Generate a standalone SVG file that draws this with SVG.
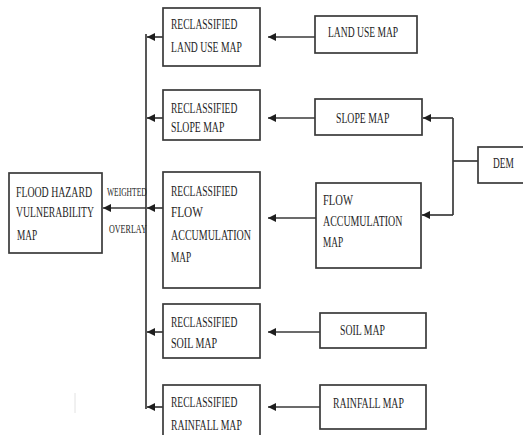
<svg xmlns="http://www.w3.org/2000/svg" width="523" height="435" viewBox="0 0 523 435">
<style>
.box{fill:#fff;stroke:#3a3a3a;stroke-width:1.7}
.ln{fill:none;stroke:#3a3a3a;stroke-width:1.7}
.arr{fill:none;stroke:#3a3a3a;stroke-width:1.7;marker-end:url(#ah)}
text{font-family:"Liberation Serif","Times New Roman",serif;font-size:15px;fill:#1e1e1e}
.sm{font-size:12px}
</style>
<defs>
<marker id="ah" markerUnits="userSpaceOnUse" markerWidth="9" markerHeight="8" refX="8" refY="4" orient="auto">
<path d="M0,0 L8,4 L0,8 Z" fill="#1e1e1e"/>
</marker>
</defs>
<rect width="523" height="435" fill="#fff"/>
<g id="connectors">
<line class="ln" x1="146" y1="34" x2="146" y2="409"/>
<line class="arr" x1="163" y1="37" x2="147" y2="37"/>
<line class="arr" x1="163" y1="118" x2="147" y2="118"/>
<line class="arr" x1="163" y1="208" x2="147" y2="208"/>
<line class="arr" x1="163" y1="332" x2="147" y2="332"/>
<line class="arr" x1="163" y1="407" x2="147" y2="407"/>
<line class="arr" x1="146" y1="208" x2="103" y2="208"/>
<line class="arr" x1="315" y1="37" x2="268" y2="37"/>
<line class="arr" x1="315" y1="118" x2="268" y2="118"/>
<line class="arr" x1="316" y1="218" x2="268" y2="218"/>
<line class="arr" x1="320" y1="332" x2="268" y2="332"/>
<line class="arr" x1="320" y1="407" x2="268" y2="407"/>
<line class="ln" x1="478" y1="161" x2="453" y2="161"/>
<line class="ln" x1="453" y1="118" x2="453" y2="215"/>
<line class="arr" x1="453" y1="118" x2="423" y2="118"/>
<line class="arr" x1="453" y1="215" x2="422" y2="215"/>
</g>
<g id="flood">
<rect class="box" x="9" y="173" width="93" height="80"/>
<text transform="translate(16,197) scale(0.65,1)" textLength="117" lengthAdjust="spacingAndGlyphs">FLOOD HAZARD</text>
<text transform="translate(16,217) scale(0.65,1)" textLength="120" lengthAdjust="spacingAndGlyphs">VULNERABILITY</text>
<text transform="translate(17,240) scale(0.65,1)" textLength="31" lengthAdjust="spacingAndGlyphs">MAP</text>
</g>
<g id="overlay-label">
<text class="sm" transform="translate(107,196) scale(0.65,1)" textLength="61" lengthAdjust="spacingAndGlyphs">WEIGHTED</text>
<text class="sm" transform="translate(109,233) scale(0.65,1)" textLength="58" lengthAdjust="spacingAndGlyphs">OVERLAY</text>
</g>
<g id="r-landuse">
<rect class="box" x="163" y="8" width="97" height="58"/>
<text transform="translate(171,29) scale(0.65,1)" textLength="102" lengthAdjust="spacingAndGlyphs">RECLASSIFIED</text>
<text transform="translate(171,52) scale(0.65,1)" textLength="109" lengthAdjust="spacingAndGlyphs">LAND USE MAP</text>
</g>
<g id="r-slope">
<rect class="box" x="163" y="90" width="97" height="50"/>
<text transform="translate(171,113) scale(0.65,1)" textLength="102" lengthAdjust="spacingAndGlyphs">RECLASSIFIED</text>
<text transform="translate(171,132) scale(0.65,1)" textLength="82" lengthAdjust="spacingAndGlyphs">SLOPE MAP</text>
</g>
<g id="r-flow">
<rect class="box" x="163" y="172" width="97" height="116"/>
<text transform="translate(171,196) scale(0.65,1)" textLength="102" lengthAdjust="spacingAndGlyphs">RECLASSIFIED</text>
<text transform="translate(171,217) scale(0.65,1)" textLength="49" lengthAdjust="spacingAndGlyphs">FLOW</text>
<text transform="translate(171,240) scale(0.65,1)" textLength="123" lengthAdjust="spacingAndGlyphs">ACCUMULATION</text>
<text transform="translate(171,262) scale(0.65,1)" textLength="31" lengthAdjust="spacingAndGlyphs">MAP</text>
</g>
<g id="r-soil">
<rect class="box" x="163" y="304" width="97" height="54"/>
<text transform="translate(171,327) scale(0.65,1)" textLength="102" lengthAdjust="spacingAndGlyphs">RECLASSIFIED</text>
<text transform="translate(171,348) scale(0.65,1)" textLength="71" lengthAdjust="spacingAndGlyphs">SOIL MAP</text>
</g>
<g id="r-rainfall">
<rect class="box" x="163" y="385" width="97" height="60"/>
<text transform="translate(171,407) scale(0.65,1)" textLength="102" lengthAdjust="spacingAndGlyphs">RECLASSIFIED</text>
<text transform="translate(171,430) scale(0.65,1)" textLength="109" lengthAdjust="spacingAndGlyphs">RAINFALL MAP</text>
</g>
<g id="landuse">
<rect class="box" x="315" y="16" width="102" height="37"/>
<text transform="translate(328,37) scale(0.65,1)" textLength="108" lengthAdjust="spacingAndGlyphs">LAND USE MAP</text>
</g>
<g id="slope">
<rect class="box" x="315" y="99" width="107" height="36"/>
<text transform="translate(336,123) scale(0.65,1)" textLength="82" lengthAdjust="spacingAndGlyphs">SLOPE MAP</text>
</g>
<g id="flowacc">
<rect class="box" x="316" y="183" width="105" height="85"/>
<text transform="translate(323,205) scale(0.65,1)" textLength="46" lengthAdjust="spacingAndGlyphs">FLOW</text>
<text transform="translate(323,226) scale(0.65,1)" textLength="122" lengthAdjust="spacingAndGlyphs">ACCUMULATION</text>
<text transform="translate(323,247) scale(0.65,1)" textLength="31" lengthAdjust="spacingAndGlyphs">MAP</text>
</g>
<g id="soil">
<rect class="box" x="320" y="313" width="106" height="35"/>
<text transform="translate(340,335) scale(0.65,1)" textLength="69" lengthAdjust="spacingAndGlyphs">SOIL MAP</text>
</g>
<g id="rainfall">
<rect class="box" x="320" y="385" width="106" height="44"/>
<text transform="translate(333,408) scale(0.65,1)" textLength="109" lengthAdjust="spacingAndGlyphs">RAINFALL MAP</text>
</g>
<g id="dem">
<rect class="box" x="478" y="147" width="50" height="36"/>
<text transform="translate(493,168) scale(0.65,1)" textLength="32" lengthAdjust="spacingAndGlyphs">DEM</text>
</g>
<line x1="75" y1="393" x2="75" y2="413" stroke="#e2e2e2" stroke-width="1"/>
</svg>
